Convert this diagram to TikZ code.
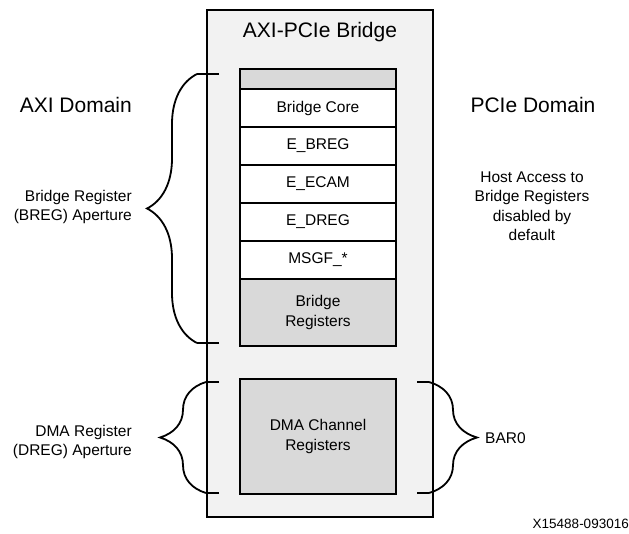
\documentclass[tikz,border=0pt]{standalone}
\usepackage{fontspec}
\setmainfont{Liberation Sans}
\usetikzlibrary{positioning,decorations.pathreplacing}
\definecolor{bridgegray}{HTML}{F2F2F2}
\definecolor{reggray}{HTML}{D9D9D9}
\tikzset{
  reg/.style={draw, line width=1.8pt, fill=white, minimum width=156pt,
    minimum height=38pt, outer sep=0pt, inner sep=0pt, align=center,
    font=\fontsize{15.5}{19.5}\selectfont},
  brc/.style={line width=1.8pt, decorate, decoration={brace, amplitude=#1}},
  tick/.style={line width=1.8pt},
  lbl/.style={inner sep=0pt, font=\fontsize{15.5}{19.5}\selectfont},
  big/.style={inner sep=0pt, font=\fontsize{21}{25}\selectfont}
}
\begin{document}
\begin{tikzpicture}[x=1pt,y=-1pt]
\useasboundingbox (0,0) rectangle (629,534);
\node[draw, line width=1.8pt, fill=bridgegray, minimum width=226pt, minimum height=507pt,
  outer sep=0pt] (bridge) at (320,263.5) {};
\node[big] (title) at (320,32) {AXI-PCIe Bridge};
\node[reg, fill=reggray, minimum height=20pt] (top) at (318,79) {};
\node[reg, below=0pt of top] (core) {Bridge Core};
\node[reg, below=0pt of core] (ebreg) {E\_BREG};
\node[reg, below=0pt of ebreg] (eecam) {E\_ECAM};
\node[reg, below=0pt of eecam] (edreg) {E\_DREG};
\node[reg, below=0pt of edreg] (msgf) {MSGF\_*};
\node[reg, fill=reggray, minimum height=67pt, below=0pt of msgf] (bregs) {Bridge\\Registers};
\node[reg, fill=reggray, minimum height=115pt] (dma) at (318,436.5) {DMA Channel\\Registers};
\coordinate (bregtop) at (197,74);
\coordinate (bregtopend) at (219,74);
\coordinate (bregbot) at (197,343);
\coordinate (bregbotend) at (219,343);
\coordinate (dregtop) at (206,382);
\coordinate (dregtopend) at (219,382);
\coordinate (dregbot) at (206,493);
\coordinate (dregbotend) at (219,493);
\coordinate (bartop) at (429,382);
\coordinate (bartopend) at (417,382);
\coordinate (barbot) at (429,493);
\coordinate (barbotend) at (417,493);
\draw[tick] (bregtopend) -- (bregtop);
\draw[tick] (bregbotend) -- (bregbot);
\draw[brc=50pt] (bregbot) -- (bregtop);
\draw[tick] (dregtopend) -- (dregtop);
\draw[tick] (dregbotend) -- (dregbot);
\draw[brc=46pt] (dregbot) -- (dregtop);
\draw[tick] (bartopend) -- (bartop);
\draw[tick] (barbotend) -- (barbot);
\draw[brc=48pt] (bartop) -- (barbot);
\node[big, anchor=east] (axi) at (132,105) {AXI Domain};
\node[big] (pcie) at (533,105) {PCIe Domain};
\node[lbl, anchor=east, align=right] (bregap) at (132,207) {Bridge Register\\(BREG) Aperture};
\node[lbl, anchor=east, align=right] (dregap) at (132,442) {DMA Register\\(DREG) Aperture};
\node[lbl, align=center] (host) at (532,206) {Host Access to\\Bridge Registers\\disabled by\\default};
\node[lbl, anchor=west] (bar) at (485,438) {BAR0};
\node[inner sep=0pt, anchor=east, font=\fontsize{13.5}{16}\selectfont] (fig) at (629,524) {X15488-093016};
\end{tikzpicture}
\end{document}
